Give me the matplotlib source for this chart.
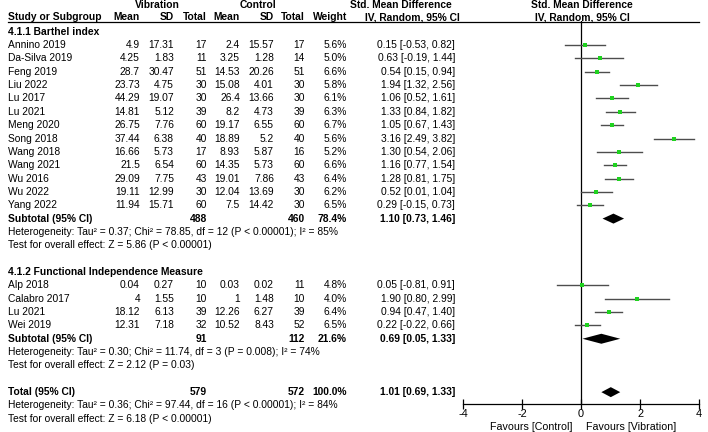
import matplotlib
matplotlib.use('Agg')
import matplotlib.pyplot as plt

plt.rcParams['font.family'] = ['Liberation Sans', 'DejaVu Sans']
plt.rcParams['axes.unicode_minus'] = False

# 4.1.1 Barthel index
studies1 = ['Annino 2019', 'Da-Silva 2019', 'Feng 2019', 'Liu 2022', 'Lu 2017', 'Lu 2021',
            'Meng 2020', 'Song 2018', 'Wang 2018', 'Wang 2021', 'Wu 2016', 'Wu 2022', 'Yang 2022']
vib_mean1 = ['4.9', '4.25', '28.7', '23.73', '44.29', '14.81', '26.75', '37.44', '16.66', '21.5', '29.09', '19.11', '11.94']
vib_sd1 = ['17.31', '1.83', '30.47', '4.75', '19.07', '5.12', '7.76', '6.38', '5.73', '6.54', '7.75', '12.99', '15.71']
vib_n1 = [17, 11, 51, 30, 30, 39, 60, 40, 17, 60, 43, 30, 60]
ctl_mean1 = ['2.4', '3.25', '14.53', '15.08', '26.4', '8.2', '19.17', '18.89', '8.93', '14.35', '19.01', '12.04', '7.5']
ctl_sd1 = ['15.57', '1.28', '20.26', '4.01', '13.66', '4.73', '6.55', '5.2', '5.87', '5.73', '7.86', '13.69', '14.42']
ctl_n1 = [17, 14, 51, 30, 30, 39, 60, 40, 16, 60, 43, 30, 30]
weight1 = [5.6, 5.0, 6.6, 5.8, 6.1, 6.3, 6.7, 5.6, 5.2, 6.6, 6.4, 6.2, 6.5]
smd1 = [0.15, 0.63, 0.54, 1.94, 1.06, 1.33, 1.05, 3.16, 1.30, 1.16, 1.28, 0.52, 0.29]
lo1 = [-0.53, -0.19, 0.15, 1.32, 0.52, 0.84, 0.67, 2.49, 0.54, 0.77, 0.81, 0.01, -0.15]
hi1 = [0.82, 1.44, 0.94, 2.56, 1.61, 1.82, 1.43, 3.82, 2.06, 1.54, 1.75, 1.04, 0.73]

# 4.1.2 Functional Independence Measure
studies2 = ['Alp 2018', 'Calabro 2017', 'Lu 2021', 'Wei 2019']
vib_mean2 = ['0.04', '4', '18.12', '12.31']
vib_sd2 = ['0.27', '1.55', '6.13', '7.18']
vib_n2 = [10, 10, 39, 32]
ctl_mean2 = ['0.03', '1', '12.26', '10.52']
ctl_sd2 = ['0.02', '1.48', '6.27', '8.43']
ctl_n2 = [11, 10, 39, 52]
weight2 = [4.8, 4.0, 6.4, 6.5]
smd2 = [0.05, 1.90, 0.94, 0.22]
lo2 = [-0.81, 0.80, 0.47, -0.22]
hi2 = [0.91, 2.99, 1.40, 0.66]

# subtotals / total: n vib, n ctl, weight, est, lo, hi
sub1 = [488, 460, 78.4, 1.10, 0.73, 1.46]
sub2 = [91, 112, 21.6, 0.69, 0.05, 1.33]
total = [579, 572, 100.0, 1.01, 0.69, 1.33]

het1 = 'Heterogeneity: Tau² = 0.37; Chi² = 78.85, df = 12 (P < 0.00001); I² = 85%'
test1 = 'Test for overall effect: Z = 5.86 (P < 0.00001)'
het2 = 'Heterogeneity: Tau² = 0.30; Chi² = 11.74, df = 3 (P = 0.008); I² = 74%'
test2 = 'Test for overall effect: Z = 2.12 (P = 0.03)'
het_t = 'Heterogeneity: Tau² = 0.36; Chi² = 97.44, df = 16 (P < 0.00001); I² = 84%'
test_t = 'Test for overall effect: Z = 6.18 (P < 0.00001)'

fs = 7.4
step = 13.35
y0 = 31.7
def rowy(r):
    return y0 + r * step

# column right edges (pixels)
cx = [140, 174, 207, 240, 274, 305, 347, 455]

fig = plt.figure(figsize=(7.08, 4.32), dpi=100)
ax = fig.add_axes([0, 0, 1, 1])
ax.set_xlim(0, 708)
ax.set_ylim(432, 0)
ax.axis('off')

fax = fig.add_axes([463/708, (432-404)/432, 236/708, (404-21)/432])
fax.set_xlim(-4, 4)
fax.set_ylim(404, 21)
fax.patch.set_alpha(0)
for s in ['top', 'left', 'right']:
    fax.spines[s].set_visible(False)
fax.spines['bottom'].set_linewidth(0.9)
fax.set_yticks([])
fax.set_xticks([-4, -2, 0, 2, 4])
fax.set_xticklabels(['-4', '-2', '0', '2', '4'])
fax.tick_params(axis='x', direction='inout', length=7, width=0.9, labelsize=fs+0.5, pad=0)
fax.axvline(0, color='black', lw=0.9)

# header
ax.text(157, 5, 'Vibration', ha='center', va='center', fontsize=fs, fontweight='bold')
ax.text(258, 5, 'Control', ha='center', va='center', fontsize=fs, fontweight='bold')
ax.text(401, 5, 'Std. Mean Difference', ha='center', va='center', fontsize=fs, fontweight='bold')
ax.text(582, 5, 'Std. Mean Difference', ha='center', va='center', fontsize=fs, fontweight='bold')
ax.text(8, 17, 'Study or Subgroup', ha='left', va='center', fontsize=fs, fontweight='bold')
for x, lab in zip(cx, ['Mean', 'SD', 'Total', 'Mean', 'SD', 'Total', 'Weight']):
    ax.text(x, 17, lab, ha='right', va='center', fontsize=fs, fontweight='bold')
ax.text(412, 17, 'IV, Random, 95% CI', ha='center', va='center', fontsize=fs, fontweight='bold')
ax.text(582, 17, 'IV, Random, 95% CI', ha='center', va='center', fontsize=fs, fontweight='bold')
ax.plot([8, 699], [21.5, 21.5], color='black', lw=0.9)


def draw_group(r, title, studies, vm, vs, vn, cm, cs, cn, w, est, lo, hi, sub, het, test):
    ax.text(8, rowy(r), title, ha='left', va='center', fontsize=fs, fontweight='bold')
    for i in range(len(studies)):
        y = rowy(r + 1 + i)
        vals = [vm[i], vs[i], vn[i], cm[i], cs[i], cn[i], '%.1f%%' % w[i],
                '%.2f [%.2f, %.2f]' % (est[i], lo[i], hi[i])]
        ax.text(8, y, studies[i], ha='left', va='center', fontsize=fs)
        for x, v in zip(cx, vals):
            ax.text(x, y, str(v), ha='right', va='center', fontsize=fs)
        fax.plot([lo[i], hi[i]], [y, y], color='#4d4d4d', lw=1.0)
        fax.plot(est[i], y, 's', color='#1fd21f', ms=1.6 + w[i] * 0.15, mew=0)
    y = rowy(r + 1 + len(studies))
    draw_summary(y, 'Subtotal (95% CI)', sub)
    ax.text(8, y + step, het, ha='left', va='center', fontsize=fs)
    ax.text(8, y + 2 * step, test, ha='left', va='center', fontsize=fs)


def draw_summary(y, label, s):
    ax.text(8, y, label, ha='left', va='center', fontsize=fs, fontweight='bold')
    vals = [s[0], s[1], '%.1f%%' % s[2], '%.2f [%.2f, %.2f]' % (s[3], s[4], s[5])]
    for x, v in zip([cx[2], cx[5], cx[6], cx[7]], vals):
        ax.text(x, y, str(v), ha='right', va='center', fontsize=fs, fontweight='bold')
    h = 5
    fax.fill([s[4], s[3], s[5], s[3]], [y, y - h, y, y + h], color='black', lw=0)


draw_group(0, '4.1.1 Barthel index', studies1, vib_mean1, vib_sd1, vib_n1, ctl_mean1, ctl_sd1,
           ctl_n1, weight1, smd1, lo1, hi1, sub1, het1, test1)
draw_group(18, '4.1.2 Functional Independence Measure', studies2, vib_mean2, vib_sd2, vib_n2,
           ctl_mean2, ctl_sd2, ctl_n2, weight2, smd2, lo2, hi2, sub2, het2, test2)

yt = rowy(27)
draw_summary(yt, 'Total (95% CI)', total)
ax.text(8, yt + step, het_t, ha='left', va='center', fontsize=fs)
ax.text(8, yt + 2 * step, test_t, ha='left', va='center', fontsize=fs)

ax.text(573, 427, 'Favours [Control]', ha='right', va='center', fontsize=fs + 0.3)
ax.text(586, 427, 'Favours [Vibration]', ha='left', va='center', fontsize=fs + 0.3)

fig.savefig('out.png', dpi=100)
